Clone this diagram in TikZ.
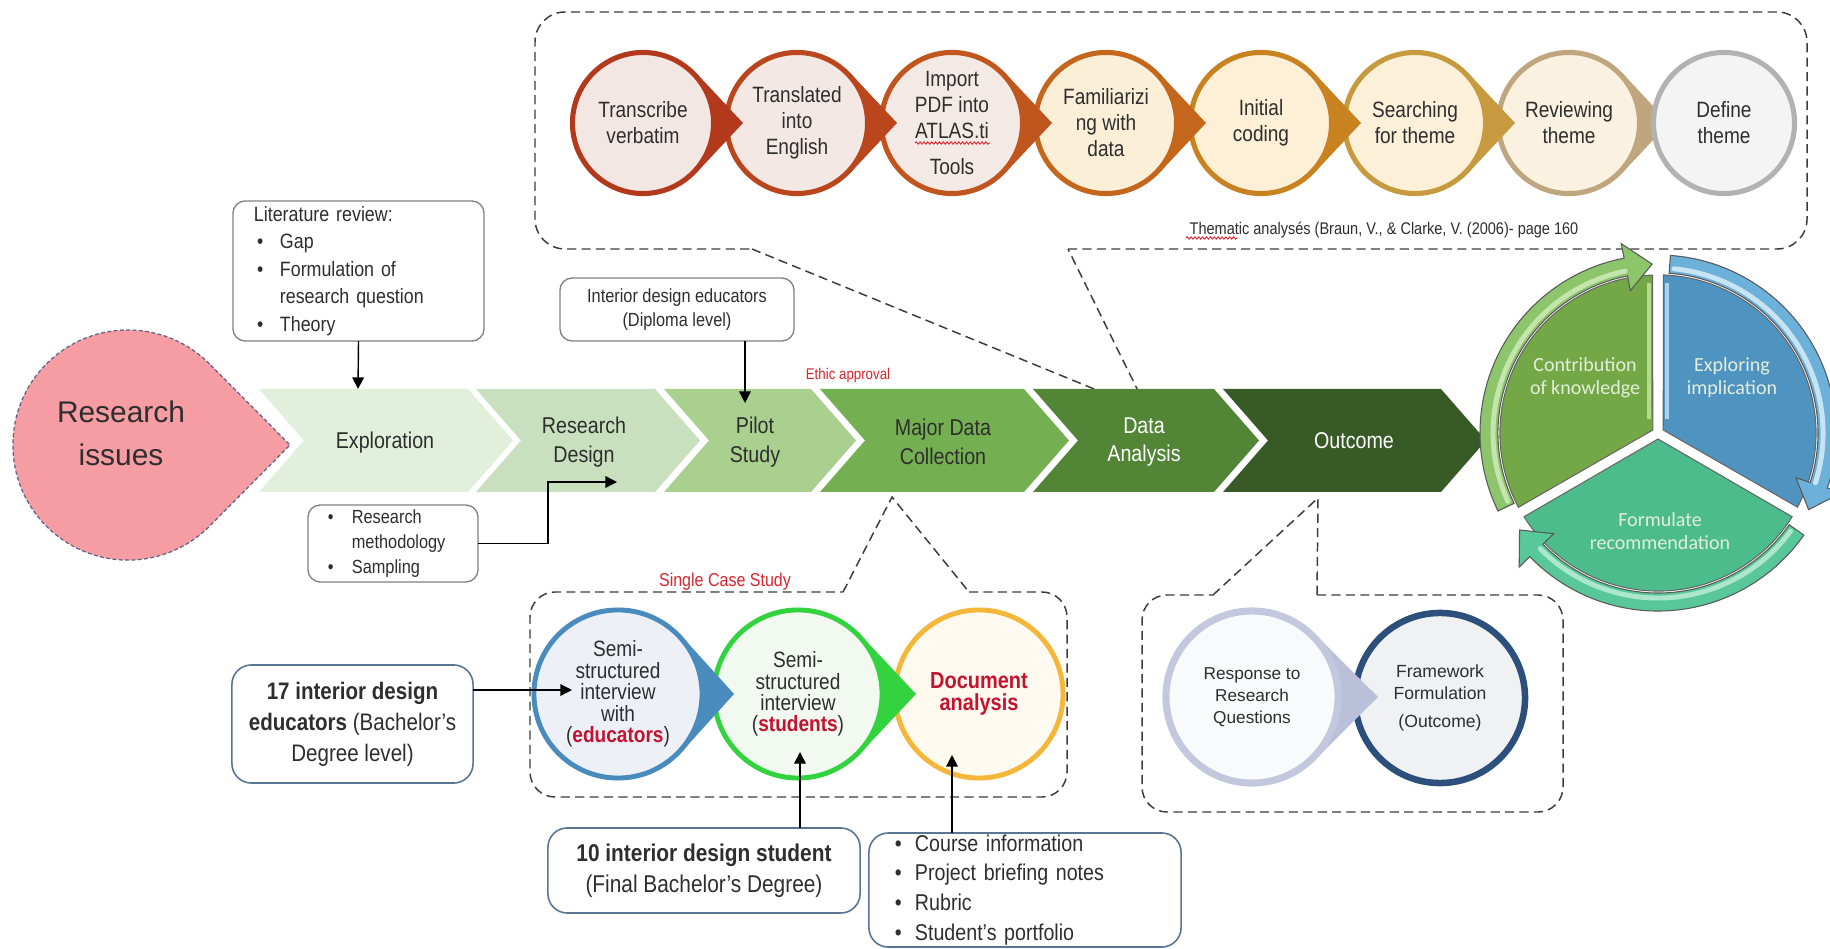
\documentclass[tikz,border=0pt]{standalone}
\usepackage{fontspec}
\setmainfont{Liberation Sans}
\newfontfamily\narrowsf{Liberation Sans}[FakeStretch=0.86]
\newfontfamily\carlito{Carlito}
\usetikzlibrary{arrows.meta,decorations.pathmorphing}

% palette
\definecolor{pinkfill}{HTML}{F59DA3}
\definecolor{pinkline}{HTML}{5E6287}
\definecolor{ch1}{HTML}{E2EFDA}
\definecolor{ch2}{HTML}{C8E0BE}
\definecolor{ch3}{HTML}{A9D08F}
\definecolor{ch4}{HTML}{74AF52}
\definecolor{ch5}{HTML}{538536}
\definecolor{ch6}{HTML}{385A27}
\definecolor{txt}{HTML}{2E2E2E}
\definecolor{boxgray}{HTML}{808080}
\definecolor{boxblue}{HTML}{5A7494}
\definecolor{callgray}{HTML}{3C3C3C}
\definecolor{redlbl}{HTML}{D9262E}
\definecolor{redbold}{HTML}{C4122F}
\definecolor{wavered}{HTML}{E0303A}
\definecolor{tr1}{HTML}{B3391C}\definecolor{tf1}{HTML}{F3E7E4}
\definecolor{tr2}{HTML}{B9461D}\definecolor{tf2}{HTML}{F3E8E4}
\definecolor{tr3}{HTML}{C0561E}\definecolor{tf3}{HTML}{F4EAE5}
\definecolor{tr4}{HTML}{C4671D}\definecolor{tf4}{HTML}{FCEFD8}
\definecolor{tr5}{HTML}{C8821F}\definecolor{tf5}{HTML}{FDF0D7}
\definecolor{tr6}{HTML}{C79A40}\definecolor{tf6}{HTML}{FCF0D9}
\definecolor{tr7}{HTML}{BFA67F}\definecolor{tf7}{HTML}{FAF1E0}
\definecolor{tr8}{HTML}{B2B2B2}\definecolor{tf8}{HTML}{F4F4F4}
\definecolor{edub}{HTML}{4A8BBE}\definecolor{eduf}{HTML}{EDF1F7}
\definecolor{stug}{HTML}{33D340}\definecolor{stuf}{HTML}{F1F9F0}
\definecolor{docy}{HTML}{F5B73A}\definecolor{docf}{HTML}{FEFAF0}
\definecolor{resl}{HTML}{C3C8DF}\definecolor{resf}{HTML}{F9FAFC}\definecolor{restip}{HTML}{BAC0DA}
\definecolor{frmn}{HTML}{2C4F7C}\definecolor{frmf}{HTML}{F0F1F3}
\definecolor{cgreen}{HTML}{74A745}\definecolor{cblue}{HTML}{4F94C1}\definecolor{cteal}{HTML}{4CBC8D}
\definecolor{rgreen}{HTML}{8CC56A}\definecolor{rblue}{HTML}{6CB1DA}\definecolor{rteal}{HTML}{58C89A}
\definecolor{hgreen}{HTML}{D2EDC0}\definecolor{hblue}{HTML}{DDF1FB}\definecolor{hteal}{HTML}{C2EEDA}
\definecolor{egreen}{HTML}{B4DA8C}\definecolor{eblue}{HTML}{A8D2EE}
\definecolor{ctext}{HTML}{E3EEDB}

\newcommand\fsz[2]{\fontsize{#1}{#2}\selectfont}
\newcommand\bul[1]{\makebox[#1][l]{\textbullet}}
% chevron: left x, right x, colour
\newcommand\chevron[3]{\fill[#3] (#1,389) -- (#2,389) -- (#2+45,440.5) -- (#2,492) -- (#1,492) -- (#1+45,440.5) -- cycle;}
% solid point of a teardrop: centre x, centre y, radius, tip distance, colour
\newcommand\droptip[5]{%
  \pgfmathsetmacro\dtang{acos(#3/#4)}%
  \fill[#5] ([shift={(#1,#2)}]\dtang:#3) -- ([shift={(#1,#2)}]0:#4) -- ([shift={(#1,#2)}]-\dtang:#3) -- (#1,#2) -- cycle;}
% pie segment of the cycle: start angle, end angle, colour
\newcommand\cycseg[3]{%
  \pgfmathsetmacro\segmid{(#1+#2)/2}%
  \filldraw[fill=#3, draw=black!60, line width=0.3pt] (\segmid:6) -- (#1+2:158) arc[start angle=#1+2, end angle=#2-2, radius=1.58cm] -- cycle;}
% curved ring arrow: tail angle, tip angle, fill, highlight
\newcommand\ringarrow[4]{%
  \pgfmathsetmacro\rbase{#2+9}%
  \filldraw[fill=#3, draw=black!65, line width=0.3pt] (#1:178) arc[start angle=#1, end angle=\rbase, radius=1.78cm] -- (\rbase:193) -- (#2:169) -- (\rbase:145) -- (\rbase:160) arc[start angle=\rbase, end angle=#1, radius=1.60cm] -- cycle;
  \draw[#4, opacity=0.8, line width=1.4pt, line cap=round] (#1-1.5:165) arc[start angle=#1-1.5, end angle=\rbase+0.5, radius=1.65cm];}

\begin{document}
\begin{tikzpicture}[x=0.01cm, y=-0.01cm,
  every node/.style={inner sep=0pt, outer sep=0pt},
  callout/.style={draw=callgray, line width=0.42pt, dash pattern=on 2.6pt off 1.5pt},
  chevlabel/.style={align=center, font=\narrowsf\fsz{6.5}{8.2}, text=txt},
  tcirc/.style={circle, minimum size=1.41cm, line width=1.45pt, align=center, font=\narrowsf\fsz{6.3}{7.4}, text=txt},
  bcirc/.style={circle, minimum size=1.68cm, line width=1.4pt, align=center, font=\narrowsf\fsz{6.3}{6.1}, text=txt},
  gbox/.style={draw=boxgray, line width=0.38pt, rounded corners=3.5pt, fill=white, text=txt},
  bbox/.style={draw=boxblue, line width=0.45pt, rounded corners=5.5pt, fill=white, text=txt},
  arr/.style={draw=black, line width=0.4pt, -{Triangle[length=3.3pt, width=3.3pt]}},
  cyctext/.style={align=center, font=\carlito\fsz{5.7}{6.5}, text=ctext},
  wavy/.style={draw=wavered, line width=0.28pt, decorate, decoration={snake, amplitude=0.32pt, segment length=1.1pt}}
]
\useasboundingbox (0,0) rectangle (1830,949);
\fill[white] (0,0) rectangle (1830,949);

% ---------- dashed callouts ----------
\draw[callout, rounded corners=0.3cm] (1068,249) -- (1807,249) -- (1807,12) -- (535,12) -- (535,249) -- (752,249);
\draw[callout] (752,249) -- (1148,411) -- (1068,249);
\draw[callout, rounded corners=0.25cm] (969,592) -- (1067,592) -- (1067,797) -- (530,797) -- (530,592) -- (843,592);
\draw[callout] (843,592) -- (892,497) -- (969,592);
\draw[callout, rounded corners=0.25cm] (1317,595) -- (1563,595) -- (1563,812) -- (1142,812) -- (1142,595) -- (1213,595);
\draw[callout] (1213,595) -- (1318,498) -- (1317,595);

% ---------- main process chevrons ----------
\chevron{259}{468}{ch1}
\chevron{476}{655}{ch2}
\chevron{664}{811}{ch3}
\chevron{820}{1024}{ch4}
\chevron{1033}{1214}{ch5}
\chevron{1223}{1441}{ch6}
\node[chevlabel] (expl) at (385,443) {Exploration};
\node[chevlabel] (rdes) at (584,442) {Research\\Design};
\node[chevlabel] (pilot) at (755,442) {Pilot\\Study};
\node[chevlabel] (major) at (943,442) {Major Data\\Collection};
\node[chevlabel, text=white] (anal) at (1144,442) {Data\\Analysis};
\node[chevlabel, text=white] (outc) at (1354,441) {Outcome};

% ---------- research issues ----------
\begin{scope}[shift={(128,445)}, y=0.01cm]
  \filldraw[fill=pinkfill, draw=pinkline, line width=0.35pt, dash pattern=on 1.1pt off 0.7pt]
    (44.8:115) arc[start angle=44.8, end angle=315.2, radius=1.15cm] -- (162,0) -- cycle;
\end{scope}
\node[align=center, font=\fsz{8.5}{12.2}, text=txt] (issues) at (121,433) {Research\\issues};

% ---------- boxes feeding the process ----------
\node[gbox, minimum width=2.51cm, minimum height=1.40cm, text width=2.09cm, align=left, font=\narrowsf\fsz{5.9}{7.8}] (lit) at (358.5,271)
  {Literature review:\\\hspace*{0.9pt}\bul{6.5pt}Gap\\\hspace*{0.9pt}\bul{6.5pt}Formulation of\\\hspace*{7.4pt}research question\\\hspace*{0.9pt}\bul{6.5pt}Theory};
\node[gbox, minimum width=1.70cm, minimum height=0.77cm, text width=1.30cm, align=left, font=\narrowsf\fsz{5.4}{7.1}] (meth) at (393,543.5)
  {\bul{6.8pt}Research\\\hspace*{6.8pt}methodology\\\bul{6.8pt}Sampling};
\node[gbox, minimum width=2.34cm, minimum height=0.63cm, align=center, font=\narrowsf\fsz{5.4}{7}] (intd) at (677,309.5)
  {Interior design educators\\(Diploma level)};
\node[font=\narrowsf\fsz{4.4}{5}, text=redlbl] (ethic) at (848,376) {Ethic approval};

\coordinate (exin) at (358,389);
\coordinate (rdin) at (617,482);
\coordinate (pilin) at (745,403);
\draw[arr] (lit.south) -- (exin);
\draw[arr] (meth.east) -- ++(70,0) |- (rdin);
\draw[arr] (intd.south -| pilin) -- (pilin);

% ---------- thematic analysis steps ----------
\droptip{1569}{123}{73}{100}{tr7}
\node[tcirc, draw=tr8, fill=tf8] (t8) at (1724,123) {Define\\theme};
\node[tcirc, draw=tr7, fill=tf7] (t7) at (1569,123) {Reviewing\\theme};
\droptip{1415}{123}{73}{100}{tr6}
\node[tcirc, draw=tr6, fill=tf6] (t6) at (1415,123) {Searching\\for theme};
\droptip{1261}{123}{73}{100}{tr5}
\node[tcirc, draw=tr5, fill=tf5] (t5) at (1261,123) {Initial\\coding};
\droptip{1106}{123}{73}{100}{tr4}
\node[tcirc, draw=tr4, fill=tf4] (t4) at (1106,123) {Familiarizi\\ng with\\data};
\droptip{952}{123}{73}{100}{tr3}
\node[tcirc, draw=tr3, fill=tf3] (t3) at (952,123) {Import\\PDF into\\ATLAS.ti\\[2.8pt]Tools};
\droptip{797}{123}{73}{100}{tr2}
\node[tcirc, draw=tr2, fill=tf2] (t2) at (797,123) {Translated\\into\\English};
\droptip{643}{123}{73}{100}{tr1}
\node[tcirc, draw=tr1, fill=tf1] (t1) at (643,123) {Transcribe\\verbatim};
\draw[wavy] (915,143) -- (990,143);
\node[font=\narrowsf\fsz{4.8}{5}, text=txt] (thema) at (1384,230) {Thematic analysés (Braun, V., \& Clarke, V. (2006)- page 160};
\draw[wavy] (1186,238) -- (1238,238);

% ---------- single case study ----------
\node[font=\narrowsf\fsz{5.3}{6}, text=redlbl] (single) at (725,582) {Single Case Study};
\node[bcirc, draw=docy, fill=docf, text=redbold, font=\narrowsf\bfseries\fsz{6.6}{6.3}] (cdoc) at (979,694) {Document\\analysis};
\droptip{798}{694}{86}{118}{stug}
\node[bcirc, draw=stug, fill=stuf] (cstu) at (798,694) {Semi-\\structured\\interview\\(\textcolor{redbold}{\bfseries students})};
\droptip{618}{694}{86}{116}{edub}
\node[bcirc, draw=edub, fill=eduf] (cedu) at (618,694) {Semi-\\structured\\interview\\with\\(\textcolor{redbold}{\bfseries educators})};

\node[bbox, minimum width=2.41cm, minimum height=1.18cm, align=center, font=\narrowsf\fsz{6.8}{8.8}] (edu17) at (352.5,724)
  {\textbf{17 interior design}\\\textbf{educators} (Bachelor’s\\Degree level)};
\node[bbox, minimum width=3.12cm, minimum height=0.85cm, align=center, font=\narrowsf\fsz{6.9}{8.8}] (stu10) at (704,870.5)
  {\textbf{10 interior design student}\\(Final Bachelor’s Degree)};
\node[bbox, minimum width=3.12cm, minimum height=1.14cm, text width=2.60cm, align=left, font=\narrowsf\fsz{6.5}{8.5}] (course) at (1025,890)
  {\bul{5.7pt}Course information\\\bul{5.7pt}Project briefing notes\\\bul{5.7pt}Rubric\\\bul{5.7pt}Student’s portfolio};

\coordinate (eduin) at (572,690);
\coordinate (stuin) at (800,752);
\coordinate (docin) at (952,755);
\draw[arr] (edu17.east |- eduin) -- (eduin);
\draw[arr] (stu10.north -| stuin) -- (stuin);
\draw[arr] (course.north -| docin) -- (docin);

% ---------- outcome ----------
\node[circle, minimum size=1.70cm, line width=1.85pt, draw=frmn, fill=frmf, align=center, font=\fsz{5}{6.2}, text=txt] (frame) at (1440,698)
  {Framework\\Formulation\\[1.8pt](Outcome)};
\droptip{1252}{697}{89}{126}{restip}
\node[circle, minimum size=1.72cm, line width=2pt, draw=resl, fill=resf, align=center, font=\fsz{4.9}{6.2}, text=txt] (resp) at (1252,697)
  {Response to\\Research\\Questions};

% ---------- segmented cycle ----------
\begin{scope}[shift={(1658,433)}, y=0.01cm]
  \cycseg{90}{210}{cgreen}
  \cycseg{-30}{90}{cblue}
  \cycseg{210}{330}{cteal}
  % light bevel along the straight edges of the upper segments
  \draw[egreen, line width=1pt] (-9,14) -- (-9,150);
  \draw[eblue, line width=1pt] (9,14) -- (9,150);
  \ringarrow{206}{92}{rgreen}{hgreen}
  \ringarrow{86}{-27}{rblue}{hblue}
  \ringarrow{-35}{-145}{rteal}{hteal}
\end{scope}
\node[cyctext] (contr) at (1585,378) {Contribution\\of knowledge};
\node[cyctext] (implic) at (1732,378) {Exploring\\implication};
\node[cyctext] (recom) at (1660,531) {Formulate\\recommendation};

\end{tikzpicture}
\end{document}
